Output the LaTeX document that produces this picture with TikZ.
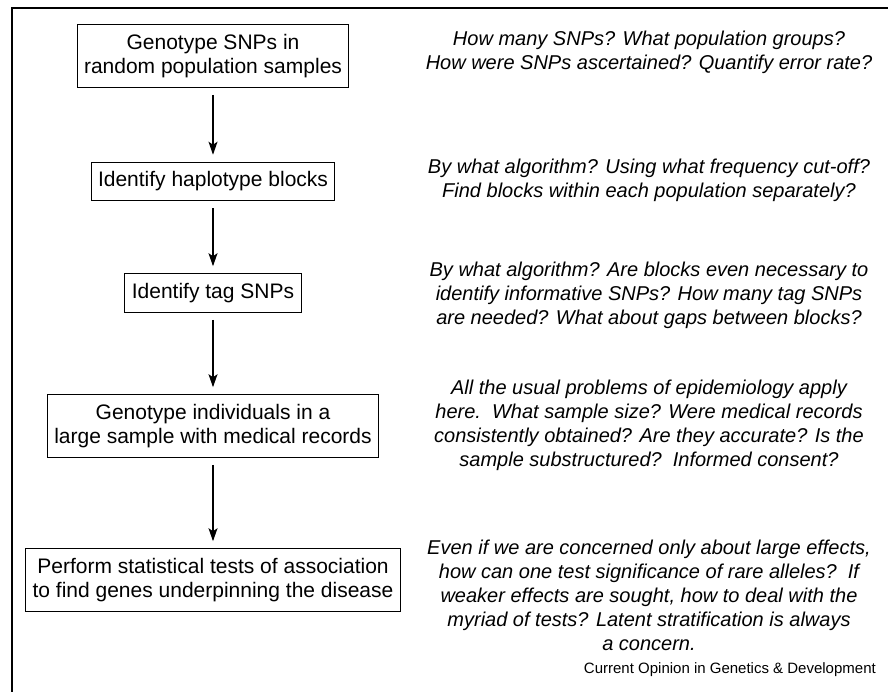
\documentclass[tikz,border=0pt]{standalone}
\usepackage{fontspec}
\setmainfont{Liberation Sans}
\usetikzlibrary{positioning}
\usetikzlibrary{arrows.meta}

\begin{document}
\begin{tikzpicture}[x=1pt,y=-1pt,
    box/.style={draw, line width=1pt, rectangle, align=center, inner xsep=7pt, inner ysep=9.5pt,
      font=\fontsize{21}{24}\selectfont},
    note/.style={align=center, font=\fontsize{20}{24}\selectfont\itshape},
    flow/.style={-{Stealth[length=13pt,width=9pt,inset=3pt]}, line width=1.2pt, shorten <=7pt, shorten >=7pt}]
    \useasboundingbox (0,0) rectangle (888,692);
    % Frame
    \draw[line width=2.2pt] (12,692) -- (12,8) -- (888,8);
    % Analysis steps
    \node[box] (geno) at (213,56) {Genotype SNPs in\\random population samples};
    \node[box] (blocks) at (213,181.5) {Identify haplotype blocks};
    \node[box] (tags) at (213,293) {Identify tag SNPs};
    \node[box] (sample) at (213,426) {Genotype individuals in a\\large sample with medical records};
    \node[box] (tests) at (213,580) {Perform statistical tests of association\\to find genes underpinning the disease};

    \draw[flow] (geno) -- (blocks);
    \draw[flow] (blocks) -- (tags);
    \draw[flow] (tags) -- (sample);
    \draw[flow] (sample) -- (tests);

    % Open questions
    \node[note] (q1) at (649,52) {How many SNPs? What population groups?\\How were SNPs ascertained? Quantify error rate?};
    \node[note] (q2) at (649,180) {By what algorithm? Using what frequency cut-off?\\Find blocks within each population separately?};
    \node[note] (q3) at (649,295) {By what algorithm? Are blocks even necessary to\\identify informative SNPs? How many tag SNPs\\are needed? What about gaps between blocks?};
    \node[note] (q4) at (649,425) {All the usual problems of epidemiology apply\\here.\ \ What sample size? Were medical records\\consistently obtained? Are they accurate? Is the\\sample substructured?\ \ Informed consent?};
    \node[note] (q5) at (649,595) {Even if we are concerned only about large effects,\\how can one test significance of rare alleles?\ \ If\\weaker effects are sought, how to deal with the\\myriad of tests? Latent stratification is always\\a concern.};

    \node[anchor=east, inner sep=0pt, font=\fontsize{15}{18}\selectfont] (credit) at (876,670) {Current Opinion in Genetics \& Development};
\end{tikzpicture}
\end{document}
